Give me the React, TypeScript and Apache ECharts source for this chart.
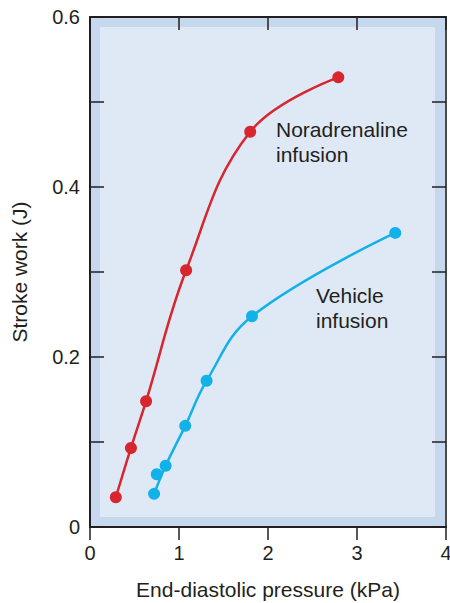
import React, { useEffect, useRef } from "react";
import * as echarts from "echarts";

const noradX = [0.29, 0.46, 0.63, 1.08, 1.8, 2.79];
const noradY = [0.035, 0.093, 0.148, 0.302, 0.465, 0.529];
const vehX = [0.72, 0.75, 0.85, 1.07, 1.31, 1.82, 3.43];
const vehY = [0.039, 0.062, 0.072, 0.119, 0.172, 0.248, 0.346];
const vehLineIdx = [0, 2, 3, 4, 5, 6];
const xTicks = [0, 1, 2, 3, 4];
const yLabels = [0, 0.2, 0.4, 0.6];

const RED = "#d7262e";
const BLUE = "#12b1e8";
const FONT = "Liberation Sans";
const INK = "#231f20";

export default function App() {
  const ref = useRef<HTMLDivElement>(null);
  useEffect(() => {
    const chart = echarts.init(ref.current!, null, { renderer: "svg" });
    const nor = noradX.map((x, i) => [x, noradY[i]]);
    const veh = vehX.map((x, i) => [x, vehY[i]]);
    const vehLine = vehLineIdx.map((i) => [vehX[i], vehY[i]]);
    const L = 90, T = 17, W = 356, H = 510;
    chart.setOption({
      animation: false,
      backgroundColor: "#ffffff",
      grid: {
        left: L, top: T, width: W, height: H, backgroundColor: "#c6d8ed", show: true, borderWidth: 0,
        containLabel: false, outerBoundsMode: "none",
      },
      graphic: [
        { type: "rect", left: L + 10, top: T + 10, shape: { width: W - 21, height: H - 20 }, style: { fill: "#dfe8f5" }, z: 1, silent: true },
        { type: "text", left: 276, top: 117, style: { text: "Noradrenaline\ninfusion", font: `21px ${FONT}`, fill: INK, lineHeight: 25 }, z: 10 },
        { type: "text", left: 316, top: 283, style: { text: "Vehicle\ninfusion", font: `21px ${FONT}`, fill: INK, lineHeight: 25 }, z: 10 },
      ],
      xAxis: [
        {
          type: "value", min: 0, max: 4, interval: 1, position: "bottom",
          name: "End-diastolic pressure (kPa)", nameLocation: "middle", nameGap: 52,
          nameTextStyle: { fontFamily: FONT, fontSize: 21, color: INK },
          axisLine: { show: true, onZero: false, lineStyle: { color: INK, width: 2 } },
          axisTick: { show: true, inside: false, length: 13, lineStyle: { color: INK, width: 1.5 } },
          axisLabel: { fontFamily: FONT, fontSize: 20, color: INK, margin: 16, formatter: (v: number) => (xTicks.includes(v) ? String(v) : "") },
          splitLine: { show: false },
          z: 5,
        },
        {
          type: "value", min: 0, max: 4, interval: 1, position: "top",
          axisLine: { show: true, onZero: false, lineStyle: { color: INK, width: 2 } },
          axisTick: { show: true, inside: true, length: 13, lineStyle: { color: INK, width: 1.5 } },
          axisLabel: { show: false }, splitLine: { show: false },
          z: 5,
        },
      ],
      yAxis: [
        {
          type: "value", min: 0, max: 0.6, interval: 0.1, position: "left",
          name: "Stroke work (J)", nameLocation: "middle", nameGap: 60, nameRotate: 90,
          nameTextStyle: { fontFamily: FONT, fontSize: 21, color: INK },
          axisLine: { show: true, onZero: false, lineStyle: { color: INK, width: 2 } },
          axisTick: { show: true, inside: true, length: 14, lineStyle: { color: INK, width: 1.5 } },
          axisLabel: {
            fontFamily: FONT, fontSize: 20, color: INK, margin: 10,
            formatter: (v: number) => {
              const r = Math.round(v * 10) / 10;
              const hit = yLabels.find((y) => Math.abs(y - r) < 1e-6);
              return hit === undefined ? "" : hit === 0 ? "0" : hit.toFixed(1);
            },
          },
          splitLine: { show: false },
          z: 5,
        },
        {
          type: "value", min: 0, max: 0.6, interval: 0.1, position: "right",
          axisLine: { show: true, onZero: false, lineStyle: { color: "#4a4a4a", width: 2 } },
          axisTick: { show: true, inside: true, length: 14, lineStyle: { color: INK, width: 1.5 } },
          axisLabel: { show: false }, splitLine: { show: false },
          z: 5,
        },
      ],
      series: [
        {
          type: "line", data: nor, smooth: 0.4, showSymbol: false, symbol: "none",
          lineStyle: { color: RED, width: 2.5 }, z: 3,
        },
        {
          type: "scatter", data: nor, symbolSize: 12, itemStyle: { color: RED, opacity: 1 }, z: 4,
        },
        {
          type: "line", data: vehLine, smooth: 0.4, showSymbol: false, symbol: "none",
          lineStyle: { color: BLUE, width: 2.5 }, z: 3,
        },
        {
          type: "scatter", data: veh, symbolSize: 12, itemStyle: { color: BLUE, opacity: 1 }, z: 4,
        },
      ],
    });
    return () => chart.dispose();
  }, []);
  return <div ref={ref} style={{ position: "fixed", left: 0, top: 0, width: 450, height: 603 }} />;
}
